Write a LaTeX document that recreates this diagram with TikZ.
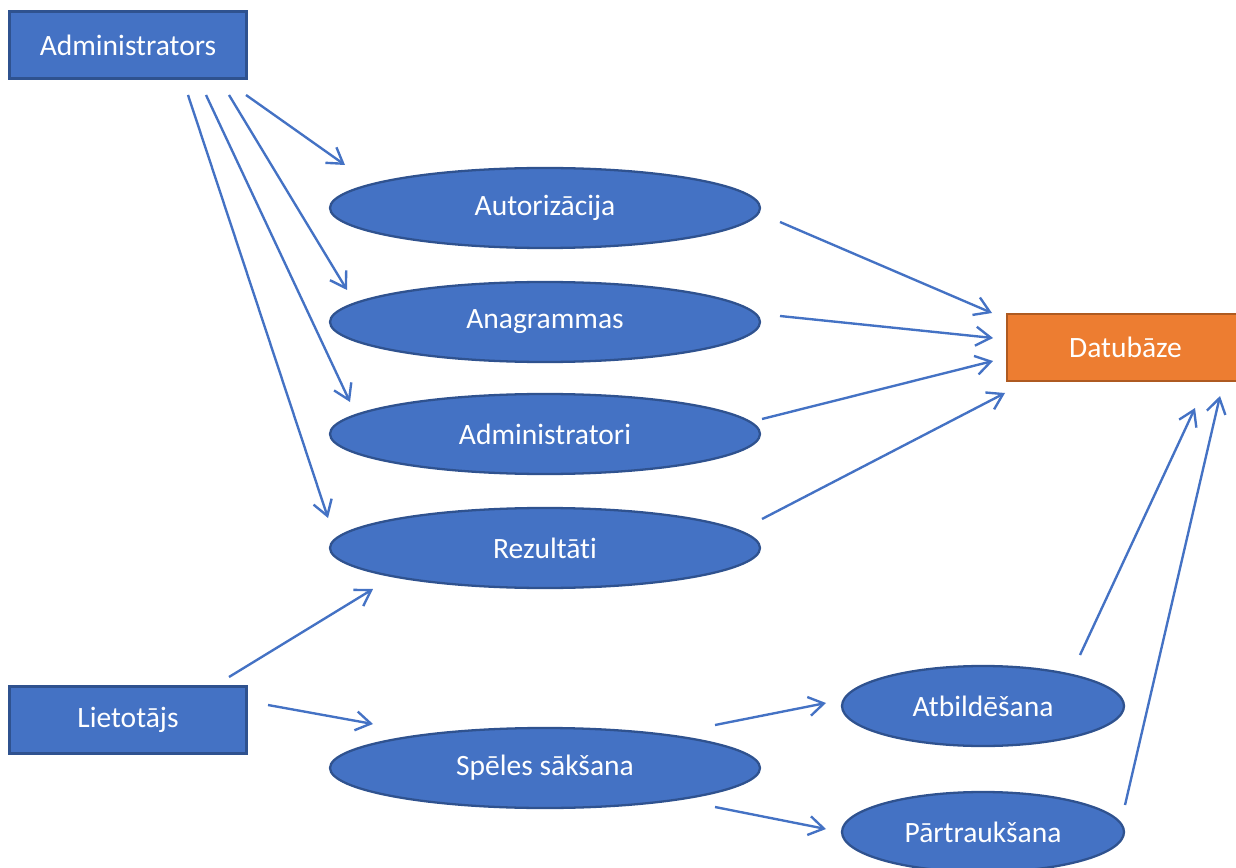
\documentclass[tikz,border=0pt]{standalone}
\usepackage{fontspec}
\setmainfont{Carlito}[Ligatures=NoCommon]
\usetikzlibrary{arrows.meta,shapes.geometric}
\definecolor{ublue}{HTML}{4472C4}
\definecolor{ubord}{HTML}{2F528F}
\definecolor{dorange}{HTML}{ED7D31}
\definecolor{dbord}{HTML}{AE5A21}
\tikzset{
	actor/.style={rectangle, fill=ublue, draw=ubord, line width=1.3pt, minimum width=4.74cm, minimum height=1.34cm, text=white, font=\fontsize{16.8}{20}\selectfont},
	dbase/.style={actor, fill=dorange, draw=dbord},
	usecase/.style={ellipse, fill=ublue, draw=ubord, line width=1.3pt, minimum width=8.6cm, minimum height=1.6cm, text=white, font=\fontsize{16.8}{20}\selectfont},
	link/.style={draw=ublue, line width=1.35pt, -{Straight Barb[length=0.3cm, width=0.38cm]}}
}

\begin{document}
\begin{tikzpicture}
				\useasboundingbox (0,0) rectangle (24.72,-17.36);
				
				\node[actor] (adm) at (2.56,-0.9) {Administrators};
				\node[actor] (liet) at (2.56,-14.4) {Lietotājs};
				\node[dbase] (datu) at (22.51,-6.95) {Datubāze};
				
				\node[usecase] (autor) at (10.9,-4.16) {Autorizācija};
				\node[usecase] (anagr) at (10.9,-6.44) {Anagrammas};
				\node[usecase] (admi) at (10.9,-8.68) {Administratori};
				\node[usecase] (rez) at (10.9,-10.96) {Rezultāti};
				\node[usecase] (spel) at (10.9,-15.36) {Spēles sākšana};
				\node[usecase, minimum width=5.64cm] (atb) at (19.66,-14.12) {Atbildēšana};
				\node[usecase, minimum width=5.64cm] (part) at (19.66,-16.64) {Pārtraukšana};
				
				\coordinate (s1) at (4.92,-1.9);   \coordinate (e1) at (6.9,-3.3);
				\coordinate (s2) at (4.58,-1.9);   \coordinate (e2) at (6.94,-5.8);
				\coordinate (s3) at (4.12,-1.9);   \coordinate (e3) at (7.0,-8.04);
				\coordinate (s4) at (3.76,-1.9);   \coordinate (e4) at (6.56,-10.36);
				\coordinate (s5) at (15.6,-4.44);  \coordinate (e5) at (19.84,-6.26);
				\coordinate (s6) at (15.6,-6.32);  \coordinate (e6) at (19.86,-6.76);
				\coordinate (s7) at (15.24,-8.38); \coordinate (e7) at (19.86,-7.22);
				\coordinate (s8) at (15.24,-10.38); \coordinate (e8) at (20.1,-7.86);
				\coordinate (s9) at (4.58,-13.54); \coordinate (e9) at (7.46,-11.78);
				\coordinate (s10) at (5.36,-14.1); \coordinate (e10) at (7.46,-14.48);
				\coordinate (s11) at (14.3,-14.5); \coordinate (e11) at (16.52,-14.06);
				\coordinate (s12) at (14.3,-16.14); \coordinate (e12) at (16.52,-16.58);
				\coordinate (s13) at (21.6,-13.1); \coordinate (e13) at (23.9,-8.16);
				\coordinate (s14) at (22.5,-16.1); \coordinate (e14) at (24.4,-7.92);
				
				\foreach \i in {1,...,14}
					\draw[link] (s\i) -- (e\i);
\end{tikzpicture}
\end{document}
